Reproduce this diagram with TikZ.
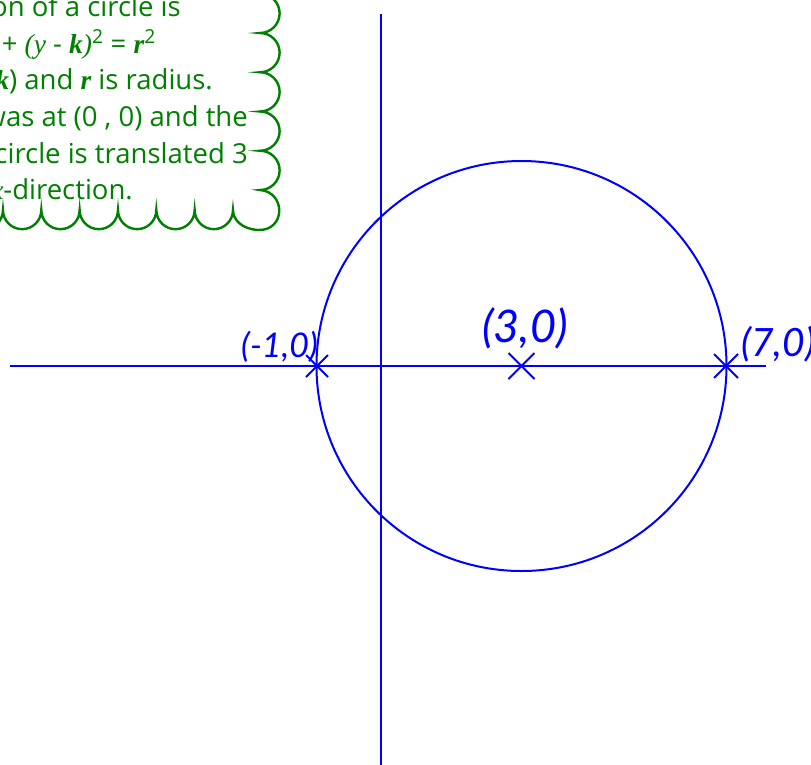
\documentclass[tikz,border=0pt]{standalone}
\usepackage{fontspec}
\setmainfont{Open Sans}
\newfontfamily\labelfont{Lato}
\newfontfamily\serifmath{Liberation Serif}
\definecolor{boxgreen}{RGB}{0,128,0}
\definecolor{pureblue}{RGB}{0,0,255}
\tikzset{
  axisline/.style={draw=pureblue, line width=2.2pt},
  circleline/.style={draw=pureblue, line width=2pt},
  crossline/.style={draw=pureblue, line width=2pt},
  cloudline/.style={draw=boxgreen, line width=2.4pt, fill=white},
  boxtext/.style={anchor=base east, inner sep=0pt, text=boxgreen, font=\fontsize{27.5}{31}\selectfont},
  ptlabel/.style={inner sep=0pt, text=pureblue, font=\labelfont\itshape}
}
\newcommand{\mi}[1]{{\serifmath\itshape #1}}
\newcommand{\mb}[1]{{\serifmath\bfseries\itshape #1}}
\begin{document}
\begin{tikzpicture}[x=1pt,y=-1pt]
\useasboundingbox (0,0) rectangle (811,764);
\clip (0,0) rectangle (811,764);
% cloud box
\path[cloudline] (260,-6.25)
  arc (-90:90:19.625) arc (-90:90:19.625) arc (-90:90:19.625)
  arc (-90:90:19.625) arc (-90:90:19.625)
  .. controls (286,192) and (286,231) .. (258,230)
  .. controls (242,229) and (233,220) .. (233,210)
  arc (0:180:19.17) arc (0:180:19.17) arc (0:180:19.17) arc (0:180:19.17)
  arc (0:180:19.17) arc (0:180:19.17) arc (0:180:19.17)
  -- (-40,-20) -- (260,-20) -- cycle;
\node[boxtext] (t1) at (181,16.5) {The standard equation of a circle is};
\node[boxtext] (t2) at (156,53) {(\mi{x} - \mb{h})\textsuperscript{2} + \mi{(y} - \mb{k}\mi{)}\textsuperscript{2} = \mb{r}\textsuperscript{2}};
\node[boxtext] (t3) at (213,89.5) {where centre is (\mb{h} , \mb{k}) and \mb{r} is radius.};
\node[boxtext] (t4) at (248,126.5) {The centre was at (0 , 0) and the};
\node[boxtext] (t5) at (248,163) {circle is translated 3};
\node[boxtext] (t6) at (133,199.5) {units in the \mi{x}-direction.};
% axes
\coordinate (xl) at (10,366);
\coordinate (xr) at (766,366);
\coordinate (yt) at (381,14);
\coordinate (yb) at (381,770);
\draw[axisline] (xl) -- (xr);
\draw[axisline] (yt) -- (yb);
% circle
\coordinate (c) at (521.5,366);
\draw[circleline] (c) circle[radius=205];
% crosses
\coordinate (pl) at (317,366);
\coordinate (pc) at (521.5,366);
\coordinate (pr) at (726,366);
\draw[crossline] ([shift={(-11,-11)}]pl) -- ([shift={(11,11)}]pl) ([shift={(-11,11)}]pl) -- ([shift={(11,-11)}]pl);
\draw[crossline] ([shift={(-13,-13)}]pc) -- ([shift={(13,13)}]pc) ([shift={(-13,13)}]pc) -- ([shift={(13,-13)}]pc);
\draw[crossline] ([shift={(-12,-12)}]pr) -- ([shift={(12,12)}]pr) ([shift={(-12,12)}]pr) -- ([shift={(12,-12)}]pr);
% labels
\node[ptlabel, anchor=east, font=\fontsize{34}{38}\selectfont\labelfont\itshape] (ll) at (318,347) {(-1,0)};
\node[ptlabel, font=\fontsize{45}{50}\selectfont\labelfont\itshape] (lc) at (525,328) {(3,0)};
\node[ptlabel, anchor=west, font=\fontsize{39}{44}\selectfont\labelfont\itshape] (lr) at (741,344) {(7,0)};
\end{tikzpicture}
\end{document}
